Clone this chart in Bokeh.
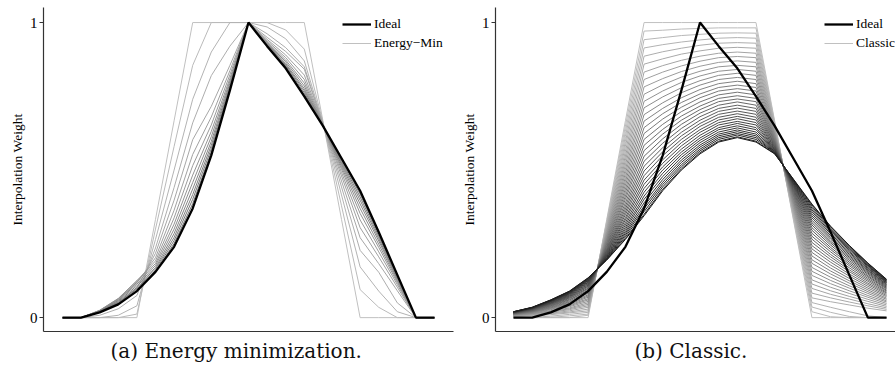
from bokeh.plotting import figure
from bokeh.layouts import row
from bokeh.models import FixedTicker, Legend, LegendItem, Range1d, Title
from bokeh.embed import file_html
from bokeh.resources import INLINE

# ---------------- data ----------------
grid_points = list(range(21))

ideal = [0, 0, .018, .045, .09, .155, .24, .37, .55, .77, 1, .92, .845, .75, .65, .54, .43, .29, .145, 0, 0]

energy_min = [
    [0, 0, 0, 0, 0, .333, .667, 1, 1, 1, 1, 1, 1, 1, .667, .333, 0, 0, 0, 0, 0],
    [0, 0, 0, 0, .012, .30, .58, .855, 1, 1, 1, 1, .975, .91, .663, .379, .095, .035, 0, 0, 0],
    [0, 0, 0, .008, .04, .265, .50, .74, .90, 1, 1, .985, .945, .87, .66, .416, .172, .09, .02, 0, 0],
    [0, 0, .008, .03, .075, .236, .441, .66, .82, .92, 1, .962, .915, .85, .658, .443, .228, .154, .05, 0, 0],
    [0, 0, .018, .05, .10, .218, .398, .603, .716, .855, 1, .95, .902, .842, .656, .463, .271, .183, .091, 0, 0],
    [0, 0, .022, .06, .118, .203, .364, .553, .68, .837, 1, .943, .89, .822, .655, .48, .305, .206, .103, 0, 0],
    [0, 0, .024, .064, .125, .192, .338, .515, .653, .823, 1, .938, .881, .807, .654, .492, .331, .223, .112, 0, 0],
    [0, 0, .025, .065, .125, .183, .317, .483, .631, .811, 1, .934, .873, .795, .653, .503, .353, .238, .119, 0, 0],
    [0, 0, .024, .062, .12, .176, .30, .458, .613, .802, 1, .931, .867, .785, .652, .511, .37, .249, .125, 0, 0],
    [0, 0, .023, .058, .114, .169, .285, .436, .597, .794, 1, .928, .861, .776, .652, .518, .385, .26, .13, 0, 0],
    [0, 0, .022, .055, .108, .164, .272, .417, .584, .787, 1, .926, .857, .769, .651, .524, .398, .268, .134, 0, 0],
    [0, 0, .021, .052, .102, .159, .261, .401, .572, .781, 1, .924, .853, .762, .651, .53, .409, .276, .138, 0, 0],
    [0, 0, .02, .049, .097, .155, .251, .386, .561, .776, 1, .922, .849, .756, .65, .535, .419, .283, .141, 0, 0],
]

classic = [
    [0, 0, 0, 0, 0, .333, .667, 1, 1, 1, 1, 1, 1, 1, .667, .333, 0, 0, 0, 0, 0],
    [0, 0, 0, 0, .008, .327, .649, .971, .974, .978, .98, .982, .982, .982, .662, .339, .02, .003, 0, 0, 0],
    [0, 0, .001, .006, .012, .321, .631, .942, .949, .956, .96, .964, .965, .964, .657, .345, .036, .018, .004, 0, 0],
    [0, .001, .005, .011, .018, .315, .614, .914, .925, .934, .941, .947, .949, .947, .652, .351, .051, .035, .02, .006, 0],
    [.003, .006, .010, .016, .023, .309, .597, .886, .901, .913, .923, .930, .932, .930, .648, .357, .067, .054, .043, .032, .023],
    [.004, .008, .013, .019, .029, .303, .581, .859, .877, .893, .904, .913, .916, .913, .643, .362, .083, .067, .053, .040, .028],
    [.005, .009, .015, .023, .035, .298, .564, .832, .854, .872, .886, .896, .900, .896, .638, .368, .099, .079, .063, .047, .033],
    [.006, .010, .018, .027, .040, .292, .548, .807, .832, .853, .869, .881, .885, .881, .634, .373, .114, .091, .072, .055, .038],
    [.007, .012, .020, .030, .045, .287, .533, .782, .810, .834, .852, .865, .870, .865, .630, .379, .128, .103, .082, .062, .043],
    [.007, .013, .022, .033, .050, .282, .518, .757, .789, .815, .835, .850, .855, .850, .625, .384, .143, .115, .091, .069, .048],
    [.008, .014, .024, .037, .055, .277, .503, .733, .768, .797, .819, .835, .841, .835, .621, .389, .157, .126, .100, .075, .053],
    [.009, .015, .027, .040, .060, .272, .489, .711, .748, .779, .803, .821, .828, .821, .618, .394, .170, .137, .108, .082, .057],
    [.010, .017, .029, .043, .064, .267, .475, .688, .728, .762, .788, .807, .814, .807, .614, .398, .184, .148, .117, .088, .062],
    [.010, .018, .031, .046, .069, .263, .462, .666, .709, .745, .773, .793, .801, .793, .610, .403, .196, .158, .125, .094, .066],
    [.011, .019, .033, .049, .073, .258, .449, .644, .691, .729, .758, .780, .788, .780, .606, .407, .209, .168, .133, .100, .071],
    [.011, .020, .034, .052, .077, .254, .436, .624, .673, .713, .745, .768, .776, .768, .603, .412, .221, .178, .141, .106, .075],
    [.012, .021, .036, .054, .082, .250, .424, .604, .655, .698, .731, .755, .764, .755, .599, .416, .233, .188, .148, .112, .079],
    [.013, .022, .038, .057, .086, .245, .412, .584, .638, .683, .717, .743, .752, .743, .596, .420, .244, .197, .156, .117, .083],
    [.013, .023, .040, .060, .090, .242, .401, .566, .622, .669, .705, .732, .741, .732, .593, .424, .255, .206, .162, .123, .086],
    [.014, .024, .041, .062, .093, .238, .389, .547, .606, .655, .693, .720, .731, .720, .590, .428, .266, .214, .169, .128, .090],
    [.014, .025, .043, .065, .097, .234, .378, .530, .591, .641, .681, .709, .720, .709, .587, .431, .276, .223, .176, .133, .093],
    [.015, .026, .045, .067, .100, .230, .368, .513, .576, .628, .669, .699, .710, .699, .584, .435, .286, .231, .182, .138, .097],
    [.015, .027, .046, .069, .104, .227, .358, .497, .562, .616, .658, .689, .700, .689, .581, .438, .296, .238, .188, .142, .100],
    [.016, .028, .048, .071, .107, .224, .349, .481, .549, .604, .648, .679, .691, .679, .578, .442, .305, .246, .194, .147, .103],
    [.016, .029, .049, .073, .110, .221, .339, .466, .535, .593, .637, .670, .682, .670, .576, .445, .314, .253, .200, .151, .106],
    [.017, .029, .050, .075, .113, .218, .331, .452, .523, .582, .628, .661, .674, .661, .573, .448, .322, .259, .205, .155, .109],
    [.017, .030, .051, .077, .116, .215, .322, .438, .511, .571, .618, .653, .665, .653, .571, .451, .330, .266, .210, .159, .112],
    [.018, .031, .053, .079, .119, .212, .314, .425, .500, .561, .609, .644, .658, .644, .569, .453, .338, .272, .215, .162, .114],
    [.018, .031, .054, .081, .121, .209, .306, .412, .489, .552, .601, .637, .650, .637, .567, .456, .345, .278, .220, .166, .117],
    [.018, .032, .055, .082, .124, .207, .299, .401, .478, .543, .593, .629, .643, .629, .565, .458, .352, .284, .224, .169, .119],
    [.019, .033, .056, .084, .126, .204, .292, .389, .468, .534, .585, .622, .636, .622, .563, .461, .359, .289, .229, .173, .121],
    [.019, .033, .057, .085, .128, .202, .286, .378, .459, .526, .578, .616, .630, .616, .561, .463, .365, .294, .233, .176, .123],
    [.019, .034, .058, .087, .130, .200, .280, .369, .451, .518, .571, .610, .624, .610, .559, .465, .371, .299, .236, .178, .125],
    [.020, .034, .059, .088, .132, .198, .274, .359, .443, .511, .565, .604, .619, .604, .558, .467, .377, .303, .240, .181, .127],
    [.020, .035, .060, .089, .134, .196, .268, .350, .435, .504, .559, .598, .613, .598, .556, .469, .382, .308, .243, .184, .129],
    [.02, .035, .06, .09, .135, .195, .265, .345, .43, .5, .555, .595, .61, .595, .555, .47, .385, .31, .245, .185, .13],
]

y_ticks = [0, 1]
y_label = "Interpolation Weight"
captions = ["(a) Energy minimization.", "(b) Classic."]
legend_names = ["Energy\u2212Min", "Classic"]

SERIF = "Liberation Serif"
AXIS_COLOR = "#333333"


def gray_ramp(n, light, dark):
    out = []
    for i in range(n):
        t = i / (n - 1) if n > 1 else 0
        v = int(round(light + (dark - light) * t))
        out.append("#%02x%02x%02x" % (v, v, v))
    return out


def make_panel(width, b_left, b_right, x_start, x_end, series, colors, name,
               caption, cap_offset, legend_x):
    p = figure(width=width, height=368,
               x_range=Range1d(x_start, x_end), y_range=Range1d(-0.047, 1.051),
               output_backend="svg", toolbar_location=None,
               min_border_left=b_left, min_border_right=b_right,
               min_border_top=7, min_border_bottom=37)
    p.outline_line_color = None
    p.xgrid.visible = False
    p.ygrid.visible = False
    p.background_fill_color = "white"
    p.border_fill_color = "white"

    first = None
    for vals, c in zip(series, colors):
        r = p.line(grid_points, vals, line_color=c, line_width=1)
        if first is None:
            first = r
    ideal_r = p.line(grid_points, ideal, line_color="black", line_width=2.3)

    # axes
    xa = p.xaxis[0]
    xa.ticker = FixedTicker(ticks=[])
    xa.major_label_text_font_size = "0px"
    xa.major_label_standoff = 0
    xa.major_tick_out = 0
    xa.major_tick_in = 0
    xa.major_tick_line_color = None
    xa.minor_tick_line_color = None
    xa.axis_line_color = AXIS_COLOR
    xa.axis_line_width = 1.2

    ya = p.yaxis[0]
    ya.ticker = FixedTicker(ticks=y_ticks)
    ya.minor_tick_line_color = None
    ya.major_tick_in = 0
    ya.major_tick_out = 4
    ya.major_tick_line_color = AXIS_COLOR
    ya.axis_line_color = AXIS_COLOR
    ya.axis_line_width = 1.2
    ya.major_label_text_font = SERIF
    ya.major_label_text_font_size = "15px"
    ya.major_label_text_color = "black"
    ya.major_label_standoff = 2
    ya.axis_label = y_label
    ya.axis_label_text_font = SERIF
    ya.axis_label_text_font_size = "13.5px"
    ya.axis_label_text_font_style = "normal"
    ya.axis_label_text_color = "black"
    ya.axis_label_standoff = 2

    legend = Legend(items=[LegendItem(label="Ideal", renderers=[ideal_r]),
                           LegendItem(label=name, renderers=[first])],
                    location=(legend_x, 280))
    legend.glyph_width = 29
    legend.glyph_height = 16
    legend.label_height = 16
    legend.label_standoff = 3
    legend.spacing = 3
    legend.padding = 0
    legend.margin = 0
    legend.border_line_color = None
    legend.background_fill_alpha = 0
    legend.label_text_font = SERIF
    legend.label_text_font_size = "13.5px"
    legend.label_text_color = "black"
    p.add_layout(legend)

    cap = Title(text=caption, align="left", offset=cap_offset, standoff=11,
                text_font="DejaVu Serif", text_font_size="20px",
                text_font_style="normal", text_color="#111111")
    p.add_layout(cap, "below")
    return p


p1 = make_panel(455, 43, 2, -1.02, 21.02, energy_min,
                gray_ramp(len(energy_min), 192, 115), legend_names[0],
                captions[0], 67, 299)
p2 = make_panel(440, 40, 0, -0.965, 20.48, classic,
                gray_ramp(len(classic), 192, 28), legend_names[1],
                captions[1], 139, 329)

layout = row(p1, p2)
open("out.html", "w").write(file_html(layout, INLINE))
